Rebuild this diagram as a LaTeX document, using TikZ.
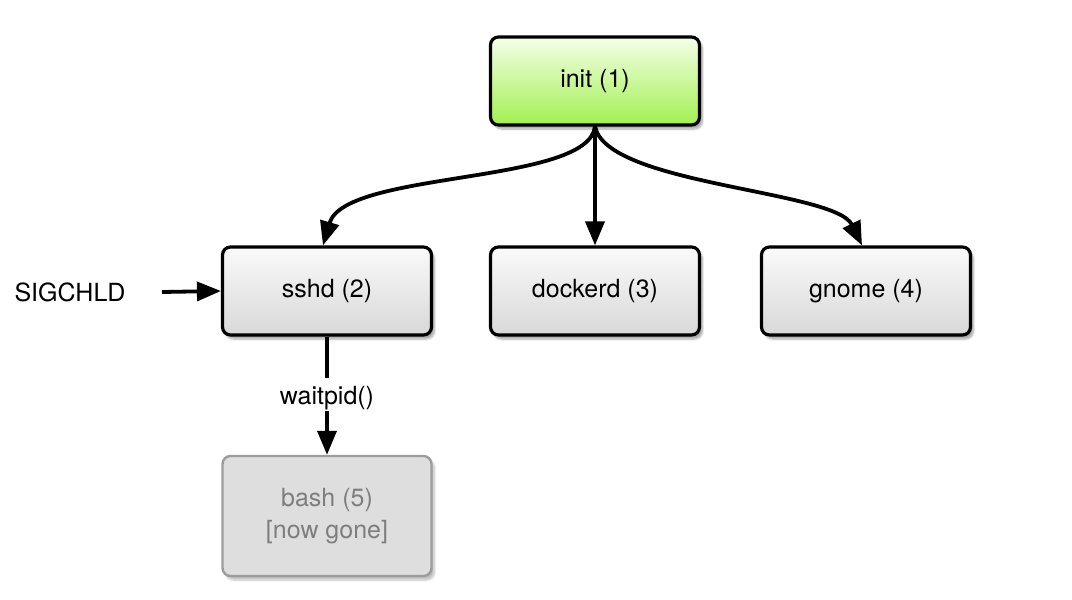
\documentclass[tikz,border=0pt]{standalone}
\usepackage{fontspec}
\setmainfont{TeX Gyre Heros}
\usetikzlibrary{arrows.meta,shadows.blur}
\definecolor{greentop}{HTML}{F4FFE8}
\definecolor{greenbot}{HTML}{A2F050}
\definecolor{greytop}{HTML}{FAFAFA}
\definecolor{greybot}{HTML}{D8D8D8}
\definecolor{gonefill}{HTML}{DEDEDE}
\definecolor{goneline}{HTML}{9C9C9C}
\definecolor{gonetext}{HTML}{7E7E7E}
\tikzset{
  proc/.style={draw=black, line width=3.2pt, rounded corners=8pt,
    minimum width=209pt, minimum height=88pt, inner sep=0pt,
    top color=greytop, bottom color=greybot,
    blur shadow={shadow xshift=3pt, shadow yshift=-4pt, shadow blur steps=6, shadow opacity=35},
    font=\fontsize{25}{30}\selectfont},
  rootproc/.style={proc, top color=greentop, bottom color=greenbot},
  goneproc/.style={draw=goneline, line width=2.4pt, rounded corners=8pt,
    minimum width=209pt, minimum height=120pt, inner sep=0pt, fill=gonefill,
    text=gonetext, align=center,
    blur shadow={shadow xshift=3pt, shadow yshift=-4pt, shadow blur steps=6, shadow opacity=25},
    font=\fontsize{25}{32}\selectfont},
  conn/.style={line width=3.8pt, -{Triangle[length=24pt,width=19pt]}},
  plain/.style={font=\fontsize{25}{30}\selectfont}
}
\begin{document}
\begin{tikzpicture}[x=1pt,y=-1pt]
\useasboundingbox (0,0) rectangle (1072,600);
\node[rootproc] (init) at (595,81) {init (1)};
\node[proc] (sshd) at (327,291) {sshd (2)};
\node[proc] (dockerd) at (595,291) {dockerd (3)};
\node[proc] (gnome) at (866,291) {gnome (4)};
\node[goneproc] (bash) at (327,516) {bash (5)\\{}[now gone]};
\node[plain] (sig) at (70,292) {SIGCHLD};
\coordinate (sigstart) at (162,292);
\coordinate (initb) at (595,126);
\draw[conn] (sigstart) -- (sshd.west);
\draw[conn] (initb) -- (dockerd.north);
\draw[conn] (initb) .. controls (590,185) and (345,170) .. ([xshift=-4pt]sshd.north);
\draw[conn] (initb) .. controls (605,185) and (835,190) .. ([xshift=-4pt]gnome.north);
\draw[line width=3.8pt] (sshd.south) -- (327,378);
\node[plain, fill=white, inner sep=1pt] (wp) at (327,398) {waitpid()};
\draw[conn] (wp.south) -- (bash.north);
\end{tikzpicture}
\end{document}
